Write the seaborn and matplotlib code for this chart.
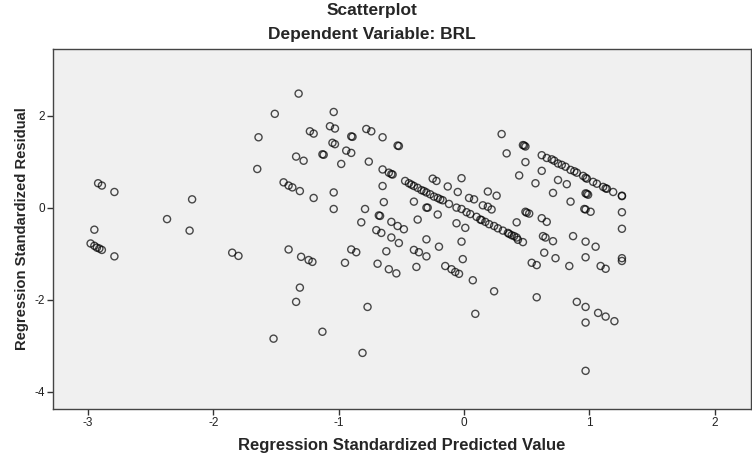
import pandas as pd
import matplotlib
matplotlib.use("Agg")
import matplotlib.pyplot as plt
import seaborn as sns

# valores (residuo estandarizado vs. valor pronosticado)
pred_left = [-2.92, -2.89, -2.79, -2.17, -2.37, -2.95, -2.19, -2.98, -2.95, -2.93,
             -2.91, -2.89, -2.79, -1.85, -1.80]
resid_left = [0.53, 0.48, 0.34, 0.18, -0.25, -0.48, -0.50, -0.78, -0.83, -0.87,
              -0.89, -0.92, -1.06, -0.98, -1.05]

pred_mid_upper = [-1.32, -1.51, -1.04, -1.07, -1.03, -1.23, -1.20, -0.78, -0.74, -0.90,
                  -0.89, -0.65, -1.64, -0.53, -0.52, -1.05, -1.03, -1.13, -1.12, -0.94,
                  -0.90, -1.34, -1.28, -0.98, -0.76, -0.65, -0.60, -0.58, -0.57, -1.65,
                  -1.44, -1.40, -1.37, -1.31, -1.20, -1.04, -1.04, -0.65, -0.64, -0.79,
                  -0.68, -0.67, -0.82, -0.58, -0.53, -0.70, -0.66, -0.58]
resid_mid_upper = [2.48, 2.04, 2.08, 1.77, 1.72, 1.66, 1.61, 1.71, 1.66, 1.55,
                   1.54, 1.53, 1.53, 1.35, 1.34, 1.41, 1.38, 1.16, 1.15, 1.24,
                   1.19, 1.11, 1.02, 0.95, 1.00, 0.83, 0.76, 0.73, 0.72, 0.84,
                   0.55, 0.48, 0.44, 0.36, 0.21, 0.33, -0.03, 0.47, 0.12, -0.03,
                   -0.17, -0.18, -0.32, -0.31, -0.40, -0.49, -0.55, -0.65]

pred_mid_lower = [-1.40, -1.30, -1.24, -1.21, -0.90, -0.86, -0.95, -0.52, -0.62, -0.69,
                  -0.60, -0.54, -1.31, -1.34, -0.77, -1.13, -1.52, -0.81]
resid_mid_lower = [-0.91, -1.07, -1.14, -1.18, -0.91, -0.97, -1.20, -0.77, -0.95, -1.22,
                   -1.34, -1.43, -1.74, -2.05, -2.16, -2.70, -2.85, -3.16]

pred_diag = [-0.47, -0.44, -0.42, -0.40, -0.37, -0.34, -0.32, -0.30, -0.27, -0.24,
             -0.21, -0.19, -0.17, -0.12, -0.06, -0.02, 0.02, 0.05, 0.10, 0.13,
             0.14, 0.17, 0.20, 0.24, 0.27, 0.31, 0.35, 0.36, 0.38, 0.40,
             0.42, 0.43, 0.47]
resid_diag = [0.58, 0.53, 0.50, 0.47, 0.43, 0.38, 0.36, 0.33, 0.29, 0.24,
              0.21, 0.18, 0.16, 0.08, 0.00, -0.03, -0.10, -0.14, -0.20, -0.26,
              -0.27, -0.31, -0.36, -0.40, -0.45, -0.50, -0.55, -0.57, -0.60, -0.62,
              -0.65, -0.70, -0.75]

pred_center = [0.30, 0.34, 0.47, 0.49, 0.48, 0.49, 0.62, 0.44, 0.57, 0.71,
               -0.02, -0.25, -0.22, -0.13, -0.05, 0.19, 0.26, 0.04, 0.08, 0.15,
               0.19, 0.22, -0.40, -0.30, -0.29, -0.21, 0.49, 0.52, 0.50, 0.42,
               0.62, 0.66, -0.37, -0.48, -0.06, 0.01, -0.30, 0.63, 0.75]
resid_center = [1.60, 1.18, 1.36, 1.33, 1.35, 0.99, 0.80, 0.70, 0.53, 0.32,
                0.64, 0.63, 0.58, 0.46, 0.34, 0.35, 0.26, 0.21, 0.18, 0.05,
                0.02, -0.04, 0.13, 0.00, 0.00, -0.15, -0.09, -0.13, -0.11, -0.32,
                -0.23, -0.31, -0.26, -0.47, -0.34, -0.44, -0.69, -0.62, 0.60]

pred_center_low = [-0.20, -0.02, -0.40, -0.36, -0.30, -0.38, -0.01, -0.15, -0.10, -0.07,
                   -0.04, 0.07, 0.24, 0.09, 0.65, 0.71, 0.64, 0.73, 0.54, 0.58,
                   0.58]
resid_center_low = [-0.85, -0.74, -0.92, -0.97, -1.06, -1.29, -1.12, -1.27, -1.34, -1.40,
                    -1.44, -1.58, -1.82, -2.31, -0.65, -0.73, -0.98, -1.10, -1.20, -1.25,
                    -1.95]

pred_right = [0.62, 0.66, 0.70, 0.72, 0.75, 0.78, 0.81, 0.85, 0.88, 0.90,
              0.95, 0.97, 0.98, 1.03, 1.06, 1.11, 1.13, 1.14, 1.19, 1.26,
              1.26, 0.82, 0.85, 0.97, 0.98, 0.99, 0.96, 0.97, 1.01, 1.26,
              1.26, 0.87, 0.97, 1.05, 0.97, 1.26, 0.84, 1.09, 1.13, 1.26,
              0.90, 0.97, 1.07, 1.13, 1.20, 0.97, 0.97]
resid_right = [1.14, 1.08, 1.05, 1.02, 0.96, 0.93, 0.89, 0.82, 0.79, 0.76,
               0.69, 0.65, 0.63, 0.56, 0.52, 0.45, 0.42, 0.41, 0.34, 0.26,
               0.25, 0.51, 0.13, 0.31, 0.30, 0.28, -0.03, -0.04, -0.09, -0.10,
               -0.46, -0.62, -0.74, -0.85, -1.08, -1.10, -1.27, -1.27, -1.33, -1.16,
               -2.05, -2.16, -2.29, -2.37, -2.47, -2.50, -3.55]

x_ticks = [-3, -2, -1, 0, 1, 2]
y_ticks = [-4, -2, 0, 2]

pred = (pred_left + pred_mid_upper + pred_mid_lower + pred_diag
        + pred_center + pred_center_low + pred_right)
resid = (resid_left + resid_mid_upper + resid_mid_lower + resid_diag
         + resid_center + resid_center_low + resid_right)
df = pd.DataFrame({"pred": pred, "resid": resid})

sns.set_style("ticks")
plt.rcParams["font.family"] = ["Liberation Sans", "DejaVu Sans"]
plt.rcParams["axes.unicode_minus"] = False

fig = plt.figure(figsize=(7.52, 4.55), dpi=100)
ax = fig.add_axes([53 / 752, 1 - 409 / 455, (751 - 53) / 752, (409 - 49) / 455])
ax.set_facecolor("#f0f0f0")

sns.scatterplot(data=df, x="pred", y="resid", ax=ax, s=26,
                facecolors="none", edgecolor="black", linewidth=1.0, alpha=0.7)

ax.set_xlim(-3.28, 2.29)
ax.set_ylim(-4.38, 3.45)
ax.set_xticks(x_ticks)
ax.set_yticks(y_ticks)
ax.tick_params(labelsize=8.5, length=4, width=1, color="#333333",
               labelcolor="#222222", pad=2)
for sp in ax.spines.values():
    sp.set_color("#444444")
    sp.set_linewidth(1.0)

ax.set_xlabel("Regression Standardized Predicted Value", fontsize=12,
              fontweight="bold", labelpad=6)
ax.set_ylabel("Regression Standardized Residual", fontsize=10.6,
              fontweight="bold", labelpad=4)

fig.text(372 / 752, 1 - 11 / 455, "Scatterplot", ha="center", va="center",
         fontsize=12.5, fontweight="bold")
fig.text(372 / 752, 1 - 34 / 455, "Dependent Variable: BRL", ha="center",
         va="center", fontsize=12.5, fontweight="bold")

fig.savefig("out.png", dpi=100)
